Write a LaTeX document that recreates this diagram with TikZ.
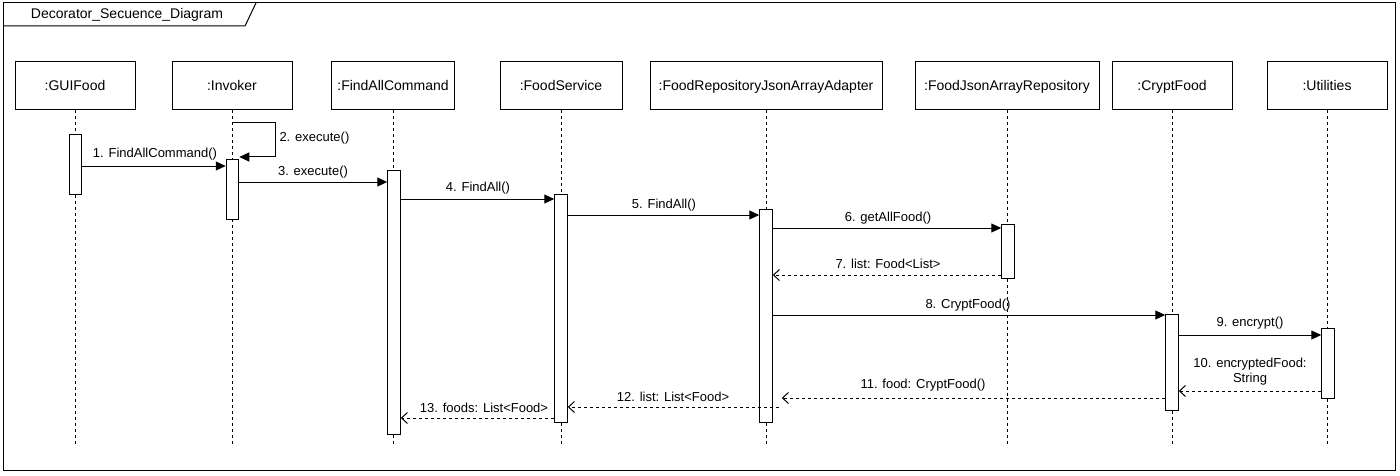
\documentclass[tikz,border=0pt]{standalone}
\usepackage{fontspec}
\setmainfont{Liberation Sans}
\usetikzlibrary{arrows.meta}
\begin{document}
\begin{tikzpicture}[x=1pt,y=-1pt,line width=1pt,
  head/.style={draw,rectangle,minimum height=48pt,inner sep=0pt,
    text height=10pt,text depth=0pt,font=\fontsize{14}{16}\selectfont},
  life/.style={line width=0.9pt,dash pattern=on 3pt off 3pt},
  bar/.style={draw,fill=white,rectangle,minimum width=12.5pt,inner sep=0pt,anchor=north},
  msg/.style={-{Triangle[length=10pt,width=9pt]}},
  ret/.style={dash pattern=on 3pt off 3pt,-{Straight Barb[length=6pt,width=11pt]}},
  lbl/.style={inner sep=0pt,font=\fontsize{13}{15}\selectfont},
]
\useasboundingbox (0,0) rectangle (1400,476);
\fill[white] (0,0) rectangle (1400,476);

% frame and its name tab
\draw (3,3) rectangle (1395,470);
\draw (3,26) -- (245,26) -- (256,3);
\node[lbl,font=\fontsize{14}{16}\selectfont] (title) at (127,15) {Decorator\_Secuence\_Diagram};

% participants
\node[head,minimum width=120pt] (gui) at (75,86) {:GUIFood};
\node[head,minimum width=120pt] (inv) at (232,86) {:Invoker};
\node[head,minimum width=123pt] (fac) at (393,86) {:FindAllCommand};
\node[head,minimum width=122pt] (fs)  at (561,86) {:FoodService};
\node[head,minimum width=232pt] (ad)  at (766,86) {:FoodRepositoryJsonArrayAdapter};
\node[head,minimum width=184pt] (fr)  at (1007,86) {:FoodJsonArrayRepository};
\node[head,minimum width=120pt] (cf)  at (1172,86) {:CryptFood};
\node[head,minimum width=120pt] (ut)  at (1327,86) {:Utilities};

% lifelines
\coordinate (bottom) at (0,445);
\foreach \p in {gui,inv,fac,fs,ad,fr,cf,ut}
  \draw[life] (\p.south) -- (\p.south |- bottom);

% activation bars
\node[bar,minimum height=60pt]  (guiA) at (75.5,134) {};
\node[bar,minimum height=60pt]  (invA) at (232.5,159) {};
\node[bar,minimum height=264pt] (facA) at (394,170) {};
\node[bar,minimum height=228pt] (fsA)  at (561,194) {};
\node[bar,minimum height=213pt] (adA)  at (766,209) {};
\node[bar,minimum height=54pt]  (frA)  at (1008,224) {};
\node[bar,minimum height=96pt]  (cfA)  at (1172,314) {};
\node[bar,minimum height=70pt]  (utA)  at (1328,328) {};

% message heights
\coordinate (y1) at (0,166);
\coordinate (y2a) at (0,123);
\coordinate (y2b) at (0,157);
\coordinate (y3) at (0,182);
\coordinate (y4) at (0,199);
\coordinate (y5) at (0,215);
\coordinate (y6) at (0,228);
\coordinate (y7) at (0,275);
\coordinate (y8) at (0,315);
\coordinate (y9) at (0,335);
\coordinate (y10) at (0,391);
\coordinate (y11) at (0,398);
\coordinate (y12) at (0,407);
\coordinate (y13) at (0,418);
\coordinate (loop) at (275,0);

% calls
\draw[msg] (guiA.east |- y1) -- (invA.west |- y1);
\draw[msg] (inv.south |- y2a) -- (loop |- y2a) -- (loop |- y2b) -- (invA.east |- y2b);
\draw[msg] (invA.east |- y3) -- (facA.west |- y3);
\draw[msg] (facA.east |- y4) -- (fsA.west |- y4);
\draw[msg] (fsA.east |- y5) -- (adA.west |- y5);
\draw[msg] (adA.east |- y6) -- (frA.west |- y6);
\draw[msg] (adA.east |- y8) -- (cfA.west |- y8);
\draw[msg] (cfA.east |- y9) -- (utA.west |- y9);

% returns
\draw[ret] (frA.west |- y7) -- (adA.east |- y7);
\draw[ret] (utA.west |- y10) -- (cfA.east |- y10);
\draw[ret] (cfA.west |- y11) -- ([xshift=9pt]adA.east |- y11);
\draw[ret] ([xshift=6pt]adA.east |- y12) -- (fsA.east |- y12);
\draw[ret] (fsA.west |- y13) -- (facA.east |- y13);

% message labels
\node[lbl] (l1) at (155,154) {1. FindAllCommand()};
\node[lbl,anchor=west] (l2) at (279,138) {2. execute()};
\node[lbl] (l3) at (313,172) {3. execute()};
\node[lbl] (l4) at (478,188) {4. FindAll()};
\node[lbl] (l5) at (664,205) {5. FindAll()};
\node[lbl] (l6) at (888,218) {6. getAllFood()};
\node[lbl] (l7) at (888,264) {7. list: Food<List>};
\node[lbl] (l8) at (968,305) {8. CryptFood()};
\node[lbl] (l9) at (1250,323) {9. encrypt()};
\node[lbl,align=center] (l10) at (1250,371.5) {10. encryptedFood:\\String};
\node[lbl] (l11) at (923,385) {11. food: CryptFood()};
\node[lbl] (l12) at (673,397) {12. list: List<Food>};
\node[lbl] (l13) at (484,408) {13. foods: List<Food>};
\end{tikzpicture}
\end{document}
